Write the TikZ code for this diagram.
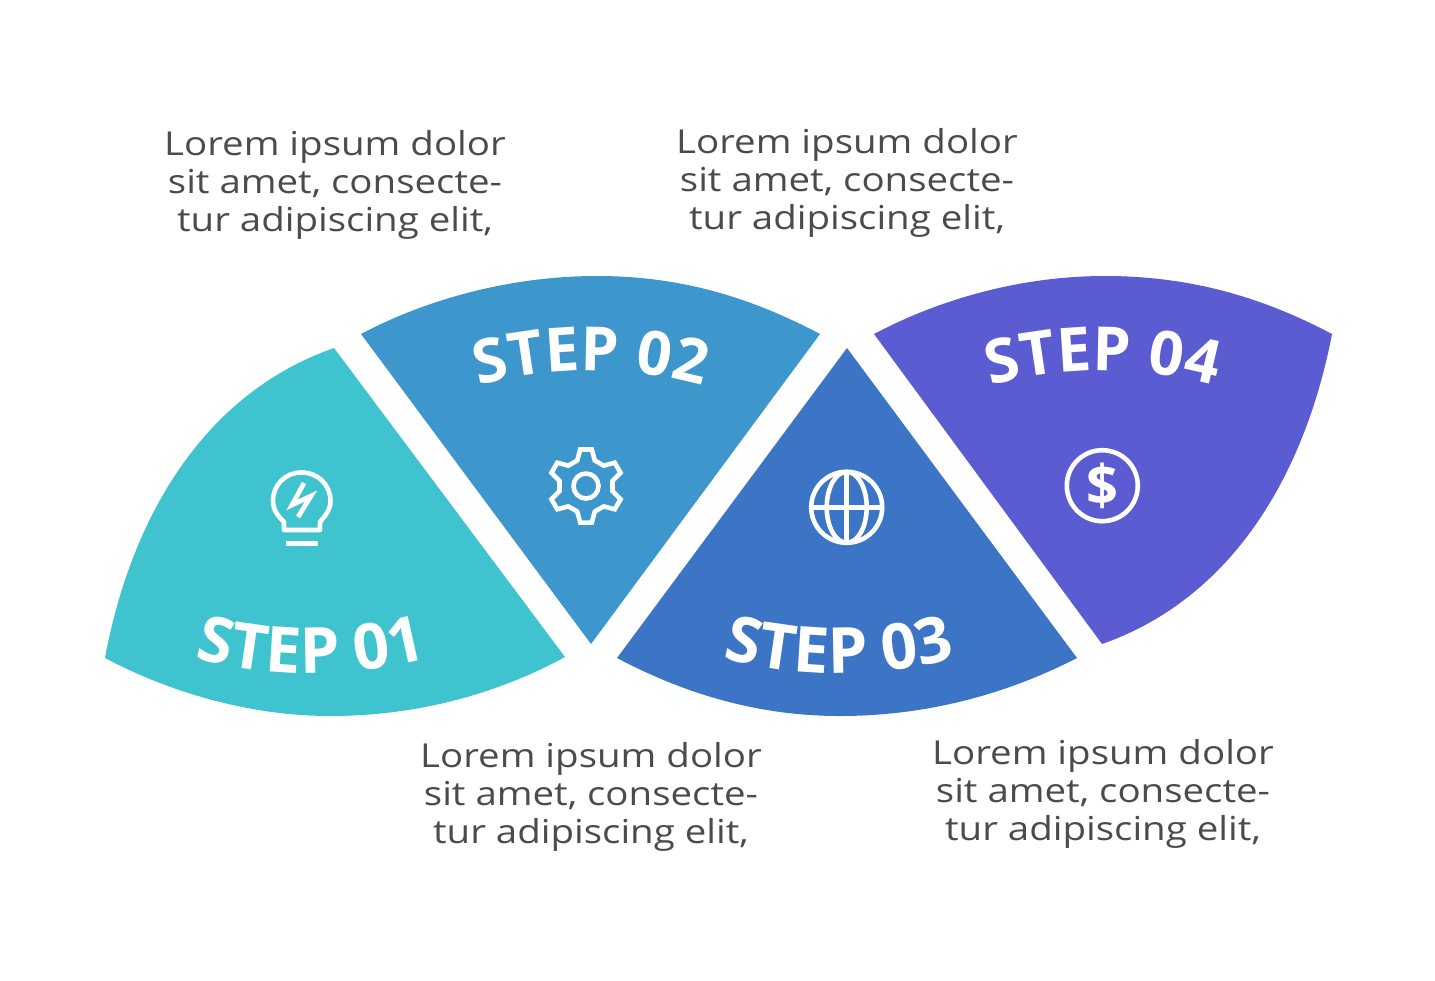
\documentclass[tikz,border=0pt]{standalone}
\usepackage{fontspec}
\setmainfont{Open Sans}
\newfontfamily\stepfont{Open Sans}[UprightFont=*-Bold]
\newfontfamily\bodyfont[FakeStretch=1.165]{Open Sans}
\usetikzlibrary{decorations.text}
\definecolor{cA}{HTML}{3EC3CF}
\definecolor{cB}{HTML}{3D96CC}
\definecolor{cC}{HTML}{3C75C5}
\definecolor{cD}{HTML}{5C5CD2}
\definecolor{txt}{HTML}{4B4B4F}
\tikzset{
  x=1pt,y=-1pt,
  body/.style={text=txt,align=center,inner sep=0pt,font=\bodyfont\fontsize{33}{38}\selectfont},
  icon/.style={draw=white,line width=4.6pt,line join=round},
  steplow/.style={decorate,decoration={text along path,text align=center,
     text={|\stepfont\fontsize{63.5}{64}\selectfont\color{white}|#1}}},
  stephigh/.style={decorate,decoration={text along path,text align=center,
     text={|\stepfont\fontsize{61}{61}\selectfont\color{white}|#1}}}
}
\begin{document}
\begin{tikzpicture}
\useasboundingbox (0,0) rectangle (1435,980);
\fill[white] (0,0) rectangle (1435,980);
% wedges
\fill[cA] (334,348) .. controls (200,395) and (130,523) .. (105,658)
  .. controls (175,695) and (255,716) .. (330,716)
  .. controls (415,716) and (495,695) .. (565,657) -- cycle;
\fill[cB] (361,334) .. controls (431,297) and (515,276) .. (597,276)
  .. controls (680,276) and (750,297) .. (820,334) -- (591,644) -- cycle;
\fill[cC] (847,348) -- (1077,658) .. controls (1005,695) and (925,716) .. (840,716)
  .. controls (760,716) and (687,695) .. (617,658) -- cycle;
\fill[cD] (874,334) .. controls (944,297) and (1025,276) .. (1105,276)
  .. controls (1190,276) and (1262,297) .. (1332,334)
  .. controls (1306,469) and (1236,597) .. (1102,644) -- cycle;
% step labels
\path[steplow={STEP 01}] (190,657) .. controls (270,679) and (352,679) .. (432,657);
\path[stephigh={STEP 02}] (472,388) .. controls (550,365) and (632,365) .. (710,388);
\path[steplow={STEP 03}] (718,657) .. controls (798,679) and (880,679) .. (960,657);
\path[stephigh={STEP 04}] (984,388) .. controls (1062,365) and (1144,365) .. (1222,388);
% bulb icon
\draw[icon] (284,530) -- (284,522) .. controls (278,516) and (273,510) .. (273,501)
  .. controls (273,485) and (285,472.5) .. (301.7,472.5)
  .. controls (318,472.5) and (330.5,485) .. (330.5,501)
  .. controls (330.5,510) and (325,516) .. (320,522) -- (320,530) -- cycle;
\draw[icon,line width=5pt] (286,543) -- (318,543);
\draw[icon,line width=4.8pt,line join=miter] (304,483) -- (292,505) -- (311,496) -- (298,517);
% gear icon
\begin{scope}[shift={(586,486)}]
\draw[icon,line join=miter] (71:27) -- (81:37) -- (99:37) -- (109:27)
  -- (131:27) -- (141:37) -- (159:37) -- (169:27)
  -- (191:27) -- (201:37) -- (219:37) -- (229:27)
  -- (251:27) -- (261:37) -- (279:37) -- (289:27)
  -- (311:27) -- (321:37) -- (339:37) -- (349:27)
  -- (11:27) -- (21:37) -- (39:37) -- (49:27) -- cycle;
\draw[icon] (0,0) circle[radius=12.5];
\end{scope}
% globe icon
\begin{scope}[shift={(846.7,507.3)}]
\draw[icon] (0,0) circle[radius=35.5];
\draw[icon] (0,0) ellipse[x radius=20,y radius=35.5];
\draw[icon] (0,-35.5) -- (0,35.5);
\draw[icon] (-35.5,0) -- (35.5,0);
\end{scope}
% dollar icon
\draw[icon] (1102.3,485.7) circle[radius=35.5];
\node[text=white,inner sep=0pt,font=\stepfont\fontsize{56}{56}\selectfont] (dollar) at (1102.3,485.7) {\$};
% body text
\node[body] (t1) at (335,185) {Lorem ipsum dolor\\sit amet, consecte-\\tur adipiscing elit,};
\node[body] (t2) at (847,183) {Lorem ipsum dolor\\sit amet, consecte-\\tur adipiscing elit,};
\node[body] (t3) at (591,797) {Lorem ipsum dolor\\sit amet, consecte-\\tur adipiscing elit,};
\node[body] (t4) at (1103,794) {Lorem ipsum dolor\\sit amet, consecte-\\tur adipiscing elit,};
\end{tikzpicture}
\end{document}
